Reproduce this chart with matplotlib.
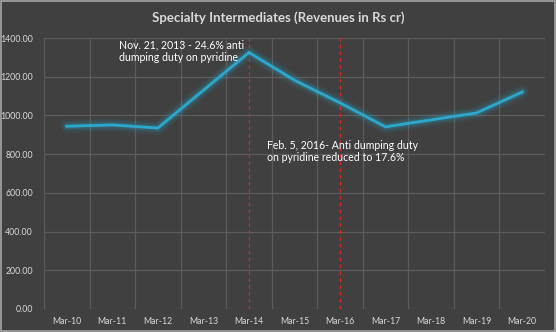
import matplotlib
matplotlib.use("Agg")
import matplotlib.pyplot as plt
import numpy as np

categories = ["Mar-10", "Mar-11", "Mar-12", "Mar-13", "Mar-14", "Mar-15",
              "Mar-16", "Mar-17", "Mar-18", "Mar-19", "Mar-20"]
revenues = [944, 951, 935, 1130, 1325, 1182, 1065, 941, 977, 1013, 1121]
y_ticks = [0, 200, 400, 600, 800, 1000, 1200, 1400]
event_positions = ["Mar-14", "Mar-16"]
event_notes = ["Nov. 21, 2013 - 24.6% anti\ndumping duty on pyridine",
               "Feb. 5, 2016- Anti dumping duty\non pyridine reduced to 17.6%"]
title = "Specialty Intermediates (Revenues in Rs cr)"

plt.rcParams['font.family'] = ['Lato', 'DejaVu Sans']

bg = "#404040"
grid_c = "#5c5c5c"
text_c = "#d9d9d9"
line_c = "#2ba8cc"

fig = plt.figure(figsize=(5.56, 3.32), dpi=100, facecolor=bg)
ax = fig.add_axes([44 / 556, 1 - 309 / 332, (545 - 44) / 556, (309 - 38) / 332])
ax.set_facecolor(bg)

x = np.arange(len(categories))

# soft glow under the main line
for lw, a in [(10, 0.05), (8, 0.07), (6, 0.1), (4, 0.16)]:
    ax.plot(x, revenues, color=line_c, lw=lw, alpha=a, solid_capstyle="round",
            solid_joinstyle="round", zorder=3)
ax.plot(x, revenues, color=line_c, lw=2, zorder=4, solid_joinstyle="miter")

for cat in event_positions:
    xi = categories.index(cat)
    ax.plot([xi, xi], [0, 1400], color="#d42a2a", lw=0.9, ls=(0, (3, 2.5)), zorder=2)

ax.set_xlim(-0.5, len(categories) - 0.5)
ax.set_ylim(0, 1400)
ax.set_yticks(y_ticks)
ax.set_yticklabels([f"{v:.2f}" for v in y_ticks])
ax.set_xticks(x)
ax.set_xticklabels(categories)
ax.set_xticks(np.arange(-0.5, len(categories), 1), minor=True)

ax.grid(True, axis="y", which="major", color=grid_c, lw=0.9, zorder=1)
ax.grid(True, axis="x", which="minor", color=grid_c, lw=0.9, zorder=1)
ax.tick_params(axis="both", which="both", length=0, colors=text_c, labelsize=6.3)
ax.tick_params(axis="y", pad=8)
ax.tick_params(axis="x", pad=6)
for s in ax.spines.values():
    s.set_visible(False)

ax.text(1.15, 1392, event_notes[0], color="white", fontsize=7.6, va="top",
        ha="left", linespacing=1.2, zorder=5)
ax.text(4.39, 875, event_notes[1], color="white", fontsize=7.6, va="top",
        ha="left", linespacing=1.2, zorder=5)

fig.text(0.5, 1 - 18 / 332, title, color=text_c, fontsize=9.5, fontweight="bold",
         ha="center", va="center")

# thin light frame around the chart
fig.patches.append(plt.Rectangle((0.001, 0.002), 0.997, 0.995, transform=fig.transFigure,
                                 fill=False, edgecolor="#a6a6a6", lw=1.2))

fig.savefig("out.png", dpi=100, facecolor=bg)
